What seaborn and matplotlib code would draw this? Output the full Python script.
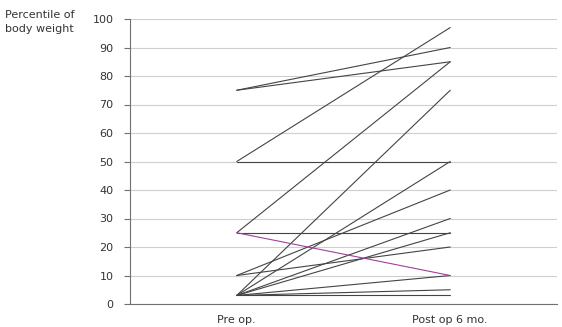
import matplotlib
matplotlib.use("Agg")
import matplotlib.pyplot as plt
import seaborn as sns
import pandas as pd
from matplotlib.ticker import FixedLocator

# Data: percentile of body weight, pre-op and 6 months post-op
categories = ["Pre op.", "Post op 6 mo."]
pre_values = [75, 75, 50, 50, 25, 25, 25, 10, 10, 3, 3, 3, 3, 3, 3, 3]
post_values = [90, 85, 97, 50, 85, 25, 10, 40, 20, 75, 50, 30, 25, 10, 5, 3]
groups = ["up"] * 6 + ["down"] + ["up"] * 9
y_ticks = list(range(0, 101, 10))

rows = []
for i, (a, b, g) in enumerate(zip(pre_values, post_values, groups)):
    rows.append({"subject": i, "time": categories[0], "value": a, "group": g})
    rows.append({"subject": i, "time": categories[1], "value": b, "group": g})
df = pd.DataFrame(rows)

sns.set_style("white")
plt.rcParams["font.family"] = ["DejaVu Sans"]

fig = plt.figure(figsize=(5.62, 3.27), dpi=100)
ax = fig.add_axes([130 / 562, 23 / 327, 427 / 562, 285 / 327])

sns.lineplot(data=df, x="time", y="value", units="subject", estimator=None,
             hue="group", palette={"up": "#444444", "down": "#a040a0"},
             linewidth=0.8, legend=False, ax=ax, sort=False)

ax.set_xlim(-0.5, 1.5)
ax.set_ylim(0, 100)
ax.set_yticks(y_ticks)
ax.set_yticklabels([str(t) for t in y_ticks], fontsize=8, color="#333333")
ax.yaxis.grid(True, color="#cfcfcf", linewidth=0.8)
ax.set_axisbelow(True)

ax.set_xticks([0, 1])
ax.set_xticklabels(categories, fontsize=8, color="#333333")
ax.xaxis.set_minor_locator(FixedLocator([-0.5, 0.5, 1.5]))
ax.tick_params(axis="x", which="major", length=0, pad=8)
ax.tick_params(axis="x", which="minor", length=3, direction="in", color="#707070", width=0.8)
ax.tick_params(axis="y", which="major", length=4, direction="out", color="#707070", width=0.8, pad=8, left=True)

for s in ["top", "right"]:
    ax.spines[s].set_visible(False)
for s in ["left", "bottom"]:
    ax.spines[s].set_color("#707070")
    ax.spines[s].set_linewidth(0.8)

ax.set_xlabel("")
ax.set_ylabel("")
fig.text(5 / 562, 1 - 22 / 327, "Percentile of\nbody weight", fontsize=8,
         color="#333333", va="center", ha="left", linespacing=1.5)

fig.savefig("out.png", dpi=100)
